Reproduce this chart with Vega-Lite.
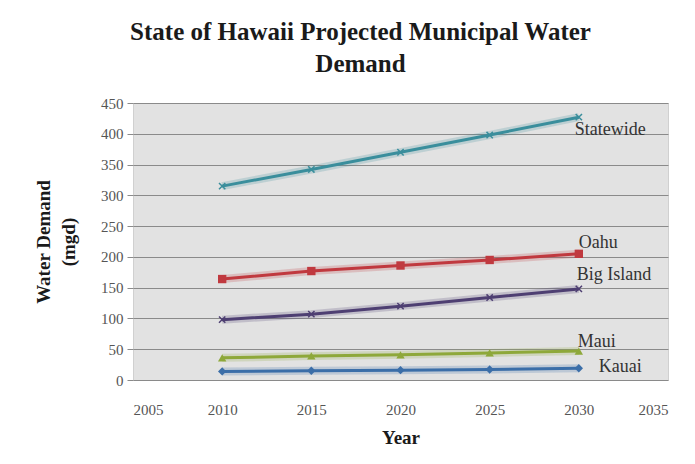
{
  "$schema": "https://vega.github.io/schema/vega-lite/v6.json",
  "autosize": {"type": "none"},
  "padding": {"left": 133, "top": 103, "right": 27, "bottom": 84},
  "width": 535,
  "height": 277,
  "background": "white",
  "title": {
    "text": ["State of Hawaii Projected Municipal Water", "Demand"],
    "font": "Liberation Serif",
    "fontSize": 25,
    "fontWeight": "bold",
    "color": "#1a1a1a",
    "lineHeight": 32,
    "anchor": "middle",
    "dx": -40,
    "offset": 19
  },
  "config": {
    "view": {"fill": "#e2e2e2", "stroke": "#d0d0d0"},
    "font": "Liberation Serif",
    "text": {"font": "Liberation Serif"},
    "axis": {
      "labelFont": "Liberation Serif",
      "labelFontSize": 15,
      "labelColor": "#555555",
      "titleFont": "Liberation Serif",
      "titleFontSize": 19,
      "titleFontWeight": "bold",
      "titleColor": "#1a1a1a",
      "domain": false
    }
  },
  "data": {
    "values": [
      {"region": "Statewide", "year": 2010, "demand": 315},
      {"region": "Statewide", "year": 2015, "demand": 342},
      {"region": "Statewide", "year": 2020, "demand": 370},
      {"region": "Statewide", "year": 2025, "demand": 398},
      {"region": "Statewide", "year": 2030, "demand": 427},
      {"region": "Oahu", "year": 2010, "demand": 164},
      {"region": "Oahu", "year": 2015, "demand": 177},
      {"region": "Oahu", "year": 2020, "demand": 186},
      {"region": "Oahu", "year": 2025, "demand": 195},
      {"region": "Oahu", "year": 2030, "demand": 205},
      {"region": "Big Island", "year": 2010, "demand": 98},
      {"region": "Big Island", "year": 2015, "demand": 107},
      {"region": "Big Island", "year": 2020, "demand": 120},
      {"region": "Big Island", "year": 2025, "demand": 134},
      {"region": "Big Island", "year": 2030, "demand": 148},
      {"region": "Maui", "year": 2010, "demand": 36},
      {"region": "Maui", "year": 2015, "demand": 39},
      {"region": "Maui", "year": 2020, "demand": 41},
      {"region": "Maui", "year": 2025, "demand": 44},
      {"region": "Maui", "year": 2030, "demand": 47},
      {"region": "Kauai", "year": 2010, "demand": 14},
      {"region": "Kauai", "year": 2015, "demand": 15},
      {"region": "Kauai", "year": 2020, "demand": 16},
      {"region": "Kauai", "year": 2025, "demand": 17},
      {"region": "Kauai", "year": 2030, "demand": 19}
    ]
  },
  "encoding": {
    "x": {
      "field": "year",
      "type": "quantitative",
      "scale": {"domain": [2005, 2035], "nice": false, "zero": false},
      "axis": {
        "title": "Year",
        "values": [2005, 2010, 2015, 2020, 2025, 2030, 2035],
        "format": "d",
        "grid": false,
        "ticks": false,
        "labelFont": "Liberation Serif",
        "labelPadding": 22,
        "titlePadding": 11
      }
    },
    "y": {
      "field": "demand",
      "type": "quantitative",
      "scale": {"domain": [0, 450], "nice": false},
      "axis": {
        "title": ["Water Demand", "(mgd)"],
        "values": [0, 50, 100, 150, 200, 250, 300, 350, 400, 450],
        "grid": true,
        "gridColor": "#8a8a8a",
        "gridWidth": 1,
        "ticks": true,
        "tickSize": 6,
        "tickColor": "#8a8a8a",
        "labelFont": "Liberation Serif",
        "labelPadding": 4,
        "titlePadding": 22,
        "titleLineHeight": 25
      }
    },
    "color": {
      "field": "region",
      "type": "nominal",
      "scale": {
        "domain": ["Statewide", "Oahu", "Big Island", "Maui", "Kauai"],
        "range": ["#3a8e9c", "#c0393f", "#4e3f72", "#8ea83a", "#3b6ea8"]
      },
      "legend": null
    }
  },
  "layer": [
    {
      "mark": {"type": "line", "strokeWidth": 8, "opacity": 0.22}
    },
    {
      "mark": {"type": "line", "strokeWidth": 3}
    },
    {
      "transform": [{"filter": "datum.region == 'Oahu' || datum.region == 'Kauai' || datum.region == 'Maui'"}],
      "mark": {"type": "point", "filled": true, "opacity": 1, "size": 70},
      "encoding": {
        "shape": {
          "field": "region",
          "type": "nominal",
          "scale": {"domain": ["Oahu", "Kauai", "Maui"], "range": ["square", "diamond", "triangle-up"]},
          "legend": null
        }
      }
    },
    {
      "transform": [{"filter": "datum.region == 'Big Island' || datum.region == 'Statewide'"}],
      "mark": {"type": "point", "filled": false, "opacity": 1, "size": 40, "strokeWidth": 1.5, "shape": "M-1,-1L1,1M-1,1L1,-1"}
    },
    {
      "transform": [{"filter": "datum.year == 2030 && datum.region == 'Statewide'"}],
      "mark": {"type": "text", "align": "left", "baseline": "middle", "dx": -4, "dy": 13, "font": "Liberation Serif", "fontSize": 18},
      "encoding": {"text": {"field": "region"}, "color": {"value": "#333333"}}
    },
    {
      "transform": [{"filter": "datum.year == 2030 && datum.region == 'Oahu'"}],
      "mark": {"type": "text", "align": "left", "baseline": "middle", "dx": 0, "dy": -11, "font": "Liberation Serif", "fontSize": 18},
      "encoding": {"text": {"field": "region"}, "color": {"value": "#333333"}}
    },
    {
      "transform": [{"filter": "datum.year == 2030 && datum.region == 'Big Island'"}],
      "mark": {"type": "text", "align": "left", "baseline": "middle", "dx": -2, "dy": -14, "font": "Liberation Serif", "fontSize": 18},
      "encoding": {"text": {"field": "region"}, "color": {"value": "#333333"}}
    },
    {
      "transform": [{"filter": "datum.year == 2030 && datum.region == 'Maui'"}],
      "mark": {"type": "text", "align": "left", "baseline": "middle", "dx": -1, "dy": -9, "font": "Liberation Serif", "fontSize": 18},
      "encoding": {"text": {"field": "region"}, "color": {"value": "#333333"}}
    },
    {
      "transform": [{"filter": "datum.year == 2030 && datum.region == 'Kauai'"}],
      "mark": {"type": "text", "align": "left", "baseline": "middle", "dx": 20, "dy": -1, "font": "Liberation Serif", "fontSize": 18},
      "encoding": {"text": {"field": "region"}, "color": {"value": "#333333"}}
    }
  ]
}
